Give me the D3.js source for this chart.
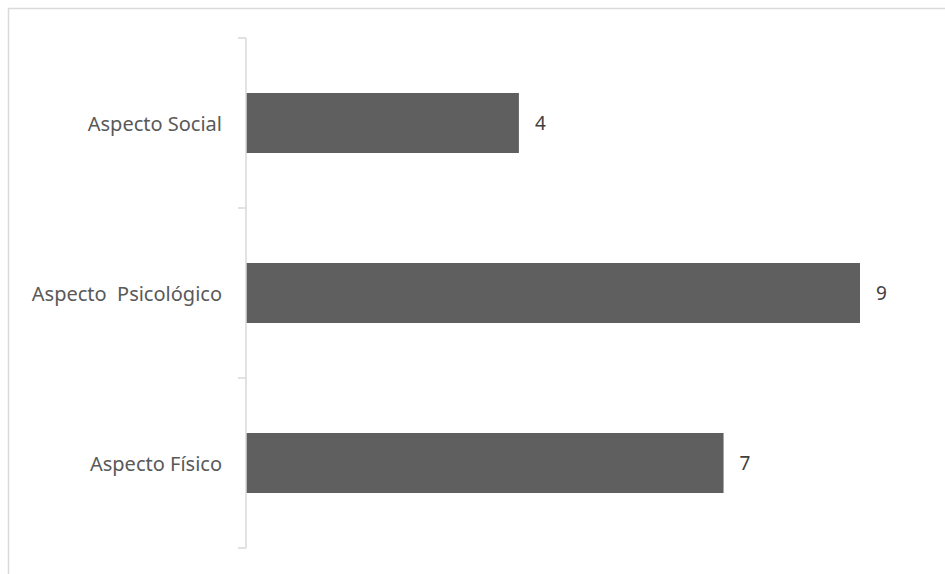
<!DOCTYPE html>
<html>
<head>
<meta charset="utf-8">
<script src="https://cdn.jsdelivr.net/npm/d3@7"></script>
<style>
  body { margin: 0; background: #fff; }
</style>
</head>
<body>
<script>
const categories = ["Aspecto Social", "Aspecto  Psicológico", "Aspecto Físico"];
const values = [4, 9, 7];

const width = 945, height = 574;
const textColor = "#595959";
const barColor = "#5f5f5f";
const lineColor = "#d9d9d9";

const svg = d3.select("body").append("svg")
    .attr("width", width)
    .attr("height", height);

// chart area border
svg.append("rect")
    .attr("x", 8.5).attr("y", 8.5)
    .attr("width", width).attr("height", height)
    .attr("fill", "none")
    .attr("stroke", lineColor)
    .attr("stroke-width", 1.5);

const x = d3.scaleLinear().domain([0, 9]).range([246, 860]);
const y = d3.scaleBand().domain(categories).range([38, 548]).padding(0);
const barH = y.bandwidth() * 0.353;

// bars
svg.selectAll(".bar")
    .data(categories)
    .enter()
    .append("rect")
    .attr("class", "bar")
    .attr("x", x(0))
    .attr("y", d => y(d) + (y.bandwidth() - barH) / 2)
    .attr("width", (d, i) => x(values[i]) - x(0))
    .attr("height", barH)
    .attr("fill", barColor);

// value labels
svg.selectAll(".val")
    .data(categories)
    .enter()
    .append("text")
    .attr("x", (d, i) => x(values[i]) + 16)
    .attr("y", d => y(d) + y.bandwidth() / 2)
    .attr("dominant-baseline", "central")
    .attr("font-family", "Noto Sans, sans-serif")
    .attr("font-size", 19)
    .attr("fill", "#404040")
    .text((d, i) => values[i]);

// category axis
const axis = svg.append("g");
axis.append("line")
    .attr("x1", 246).attr("x2", 246)
    .attr("y1", 38).attr("y2", 548)
    .attr("stroke", lineColor)
    .attr("stroke-width", 1.5);
const tickYs = categories.map(d => y(d)).concat([y.range()[1]]);
axis.selectAll(".tick")
    .data(tickYs)
    .enter()
    .append("line")
    .attr("x1", 238).attr("x2", 246)
    .attr("y1", d => d).attr("y2", d => d)
    .attr("stroke", lineColor)
    .attr("stroke-width", 1.5);

axis.selectAll(".cat")
    .data(categories)
    .enter()
    .append("text")
    .attr("x", 222)
    .attr("y", d => y(d) + y.bandwidth() / 2)
    .attr("text-anchor", "end")
    .attr("dominant-baseline", "central")
    .attr("font-family", "Noto Sans, sans-serif")
    .attr("font-size", 20)
    .attr("fill", textColor)
    .attr("xml:space", "preserve")
    .style("white-space", "pre")
    .text(d => d);
</script>
</body>
</html>
